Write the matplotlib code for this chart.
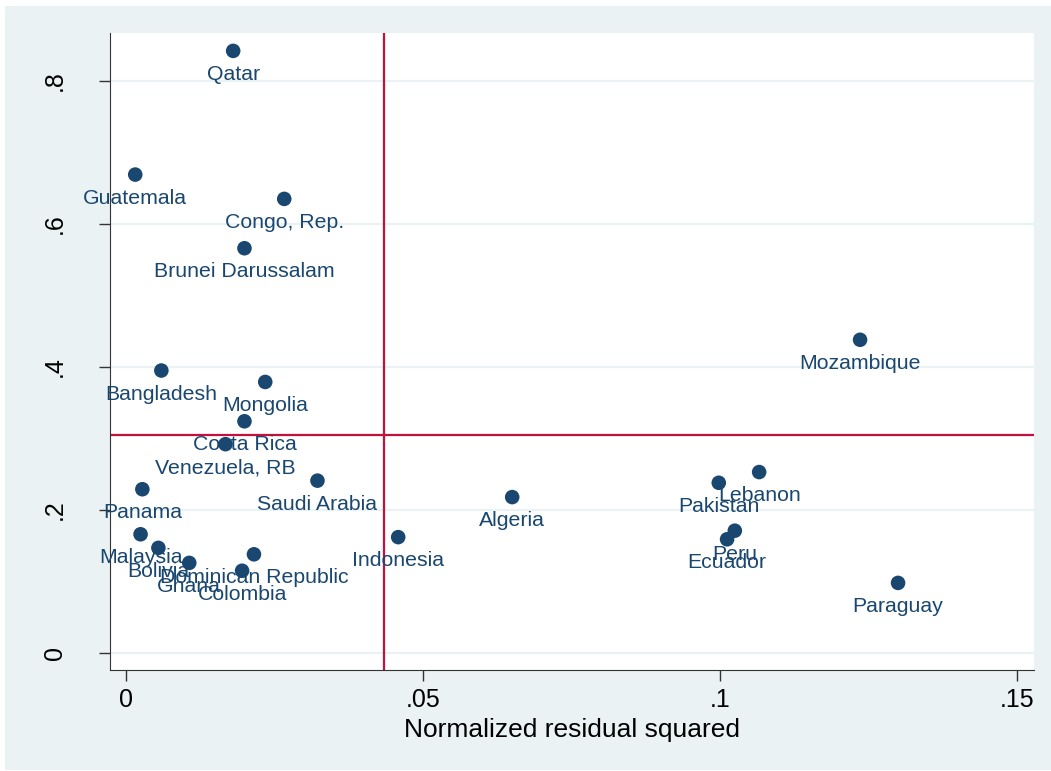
import matplotlib
matplotlib.use('Agg')
import matplotlib.pyplot as plt
from matplotlib.patches import Rectangle

# normalized residual squared vs leverage, one point per country
countries = ['Qatar', 'Guatemala', 'Congo, Rep.', 'Brunei Darussalam', 'Mozambique',
             'Bangladesh', 'Mongolia', 'Costa Rica', 'Venezuela, RB', 'Saudi Arabia',
             'Panama', 'Algeria', 'Pakistan', 'Lebanon', 'Malaysia', 'Indonesia',
             'Bolivia', 'Dominican Republic', 'Ghana', 'Colombia', 'Peru', 'Ecuador',
             'Paraguay']
resid2 = [0.0180, 0.0015, 0.0266, 0.0199, 0.1236,
          0.0059, 0.0234, 0.0199, 0.0167, 0.0322,
          0.0027, 0.0650, 0.0998, 0.1066, 0.0024, 0.0458,
          0.0054, 0.0215, 0.0106, 0.0195, 0.1025, 0.1012,
          0.1300]
leverage = [0.842, 0.669, 0.635, 0.566, 0.438,
            0.395, 0.379, 0.324, 0.292, 0.241,
            0.229, 0.218, 0.238, 0.253, 0.166, 0.162,
            0.147, 0.138, 0.126, 0.115, 0.171, 0.159,
            0.098]

mean_resid2 = 1.0 / 23     # vertical reference line
mean_lev = 7.0 / 23        # horizontal reference line

xticks = [0, 0.05, 0.1, 0.15]
xticklabels = ['0', '.05', '.1', '.15']
yticks = [0, 0.2, 0.4, 0.6, 0.8]
yticklabels = ['0', '.2', '.4', '.6', '.8']

navy = '#1A476F'
bg = '#EAF2F3'
red = '#C4103A'

plt.rcParams['font.family'] = ['Liberation Sans', 'DejaVu Sans']

fig = plt.figure(figsize=(10.51, 7.71), dpi=100)
fig.patch.set_facecolor('white')
# stata style graph region with a thin white outer margin
fig.patches.append(Rectangle((5 / 1051., 1 / 771.), 1, 1 - 7 / 771.,
                             transform=fig.transFigure, facecolor=bg,
                             edgecolor='none', zorder=-10))

ax = fig.add_axes([110 / 1051., 101 / 771., 924 / 1051., 637 / 771.])
ax.set_facecolor('white')

ax.set_xlim(-0.00275, 0.1529)
ax.set_ylim(-0.0238, 0.867)

for t in yticks:
    ax.axhline(t, color=bg, linewidth=1.6, zorder=1)

ax.axvline(mean_resid2, color=red, linewidth=1.6, zorder=2)
ax.axhline(mean_lev, color=red, linewidth=1.6, zorder=2)

ax.scatter(resid2, leverage, s=110, color=navy, edgecolors='none', zorder=3)
for name, x, y in zip(countries, resid2, leverage):
    ax.annotate(name, (x, y), xytext=(0, -14), textcoords='offset pixels',
                ha='center', va='top', fontsize=15.3, color=navy, zorder=4)

ax.set_xticks(xticks)
ax.set_xticklabels(xticklabels)
ax.set_yticks(yticks)
ax.set_yticklabels(yticklabels, rotation=90, va='center')

ax.tick_params(axis='both', direction='out', length=8, width=1, color='#333333',
               labelsize=18)
ax.tick_params(axis='x', pad=5)
ax.tick_params(axis='y', pad=23)

ax.spines['top'].set_visible(False)
ax.spines['right'].set_visible(False)
ax.spines['left'].set_color('#333333')
ax.spines['bottom'].set_color('#333333')

ax.set_xlabel('Normalized residual squared', fontsize=19, labelpad=4)

fig.savefig('out.png', dpi=100, facecolor=fig.get_facecolor())
plt.close(fig)
